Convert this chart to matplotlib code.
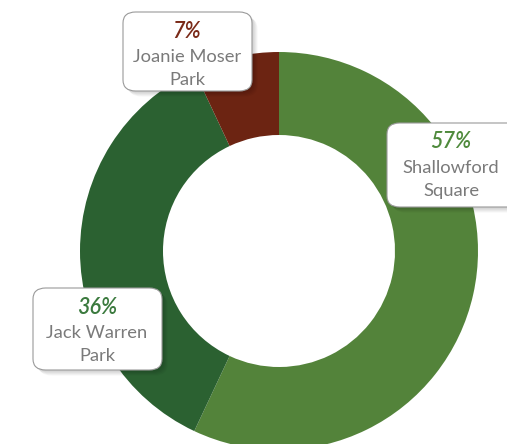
import matplotlib
matplotlib.use("Agg")
import matplotlib.pyplot as plt
from matplotlib.patches import FancyBboxPatch

categories = ["Shallowford Square", "Jack Warren Park", "Joanie Moser Park"]
values = [57, 36, 7]
pct_labels = ["57%", "36%", "7%"]
name_lines = [["Shallowford", "Square"], ["Jack Warren", "Park"], ["Joanie Moser", "Park"]]
colors = ["#53833a", "#2b6131", "#6c2412"]
pct_colors = ["#4f8a3c", "#3b7a3e", "#7a2a18"]

W, H = 507, 444
fig = plt.figure(figsize=(W / 100, H / 100), dpi=100)
fig.patch.set_facecolor("white")

cx, cy, R = 279, 251, 199
ax = fig.add_axes([(cx - R) / W, (H - cy - R) / H, 2 * R / W, 2 * R / H])
ax.pie(values, colors=colors, startangle=90, counterclock=False,
       radius=1.0, wedgeprops=dict(width=1 - 116 / 199, linewidth=0))
ax.set_xlim(-1, 1)
ax.set_ylim(-1, 1)
ax.set_aspect("equal")
ax.axis("off")

# label boxes in pixel layout (left, top, width, height, text-center-x)
boxes = [(387, 123, 135, 84, 451), (33, 288, 129, 82, 97), (123, 12, 129, 79, 187)]


def px_to_fig(x, y):
    return x / W, (H - y) / H


fam = ["Lato", "DejaVu Sans"]
for i, (bx, by, bw, bh, tx) in enumerate(boxes):
    for k in range(5):
        off = 1.5 + k
        sx, sy = px_to_fig(bx + off, by + bh + off)
        sh = FancyBboxPatch((sx, sy), bw / W, bh / H,
                            boxstyle="round,pad=0,rounding_size=0.025",
                            transform=fig.transFigure, facecolor="black",
                            edgecolor="none", alpha=0.035, zorder=5)
        fig.add_artist(sh)
    fx, fy = px_to_fig(bx, by + bh)
    box = FancyBboxPatch((fx, fy), bw / W, bh / H,
                         boxstyle="round,pad=0,rounding_size=0.025",
                         transform=fig.transFigure, facecolor="white",
                         edgecolor="#9a9a9a", linewidth=0.8, zorder=6)
    fig.add_artist(box)
    x0, y0 = px_to_fig(tx, by + 19)
    fig.text(x0, y0, pct_labels[i], ha="center", va="center",
             fontsize=15.5, style="italic", fontweight="semibold",
             color=pct_colors[i], family=fam, zorder=7)
    for j, line in enumerate(name_lines[i]):
        x1, y1 = px_to_fig(tx, by + 45 + 23 * j)
        fig.text(x1, y1, line, ha="center", va="center",
                 fontsize=13.2, color="#7a7a7a", family=fam, zorder=7)

fig.savefig("out.png", dpi=100, facecolor="white")
